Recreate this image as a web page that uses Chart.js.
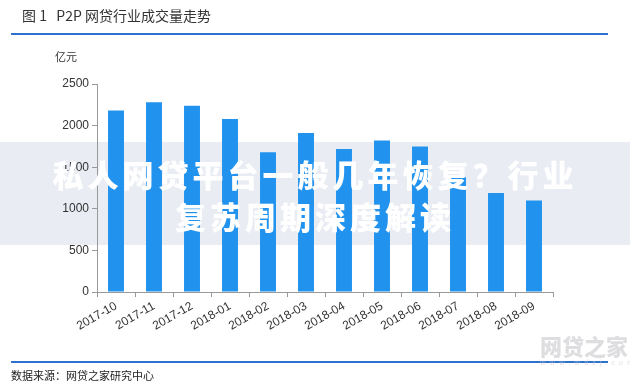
<!DOCTYPE html>
<html>
<head>
<meta charset="utf-8">
<script src="https://cdn.jsdelivr.net/npm/chart.js@4"></script>
<style>
  body { margin: 0; background: #fff; font-family: "Noto Sans CJK SC", sans-serif; }
  #wrap { position: relative; width: 630px; height: 389px; overflow: hidden; }
  #chart { position: absolute; left: 0; top: 0; z-index: 2; }
  .title { position: absolute; left: 22px; top: 5px; font-size: 14px; color: #333; z-index: 3; }
  .rule { position: absolute; left: 11px; width: 597px; height: 2px; background: #2e72cf; z-index: 3; }
  .unit { position: absolute; left: 55px; top: 48px; font-size: 11px; color: #333; z-index: 3; }
  .source { position: absolute; left: 11px; top: 367px; font-size: 11px; color: #222; z-index: 3; }
  .band { position: absolute; left: 0; top: 142px; width: 630px; height: 103px; background: #e9ecf3; z-index: 1; }
  .overlay { position: absolute; left: 0; width: 630px; text-align: center; color: #fff; font-weight: 900;
             font-size: 31px; letter-spacing: 4px; z-index: 4; white-space: nowrap; }
  .logo { position: absolute; left: 540px; top: 332px; color: rgba(200,200,205,0.6); font-size: 22px;
          font-weight: 900; z-index: 4; white-space: nowrap; line-height: 26px; }
  .logo small { display: block; font-size: 7px; letter-spacing: 4px; font-weight: 400; line-height: 8px; }
</style>
</head>
<body>
<div id="wrap">
  <div class="title">图 1&nbsp;&nbsp;&nbsp;P2P 网贷行业成交量走势</div>
  <div class="rule" style="top:33px"></div>
  <div class="unit">亿元</div>
  <div class="band"></div>
  <canvas id="chart" width="630" height="389"></canvas>
  <div class="overlay" style="top:151px">私人网贷平台一般几年恢复？行业</div>
  <div class="overlay" style="top:193px">复苏周期深度解读</div>
  <div class="rule" style="top:361px"></div>
  <div class="source">数据来源：网贷之家研究中心</div>
  <div class="logo">网贷之家<small>www.wdzj.com</small></div>
</div>
<script>
// Monthly P2P lending volume (亿元)
const months = ['2017-10', '2017-11', '2017-12', '2018-01', '2018-02', '2018-03',
                '2018-04', '2018-05', '2018-06', '2018-07', '2018-08', '2018-09'];
const volumes = [2180, 2280, 2240, 2080, 1680, 1910, 1720, 1820, 1750, 1380, 1190, 1100];
const yTicks = [0, 500, 1000, 1500, 2000, 2500];

const ctx = document.getElementById('chart').getContext('2d');
new Chart(ctx, {
    type: 'bar',
    data: {
        labels: months,
        datasets: [{
            data: volumes,
            backgroundColor: '#2193ee',
            barPercentage: 0.42,
            categoryPercentage: 1.0
        }]
    },
    options: {
        responsive: false,
        animation: false,
        layout: { padding: { left: 40, top: 84, right: 77, bottom: 52 } },
        plugins: { legend: { display: false }, tooltip: { enabled: false } },
        scales: {
            y: {
                min: 0,
                max: 2500,
                afterBuildTicks: axis => { axis.ticks = yTicks.map(v => ({ value: v })); },
                afterFit: axis => { axis.width = 57; },
                grid: { drawOnChartArea: false, drawTicks: true, tickLength: 5, color: '#999' },
                border: { display: true, color: '#999' },
                ticks: {
                    font: { size: 12, family: 'Liberation Sans' },
                    color: '#333',
                    padding: 3,
                    callback: v => String(v)
                }
            },
            x: {
                afterFit: axis => { axis.height = 45; },
                grid: { drawOnChartArea: false, drawTicks: true, tickLength: 5, color: '#999', offset: true },
                border: { display: true, color: '#999' },
                ticks: {
                    minRotation: 30,
                    maxRotation: 30,
                    autoSkip: false,
                    font: { size: 12, family: 'Liberation Sans' },
                    color: '#333',
                    padding: 2
                }
            }
        }
    }
});
</script>
</body>
</html>
